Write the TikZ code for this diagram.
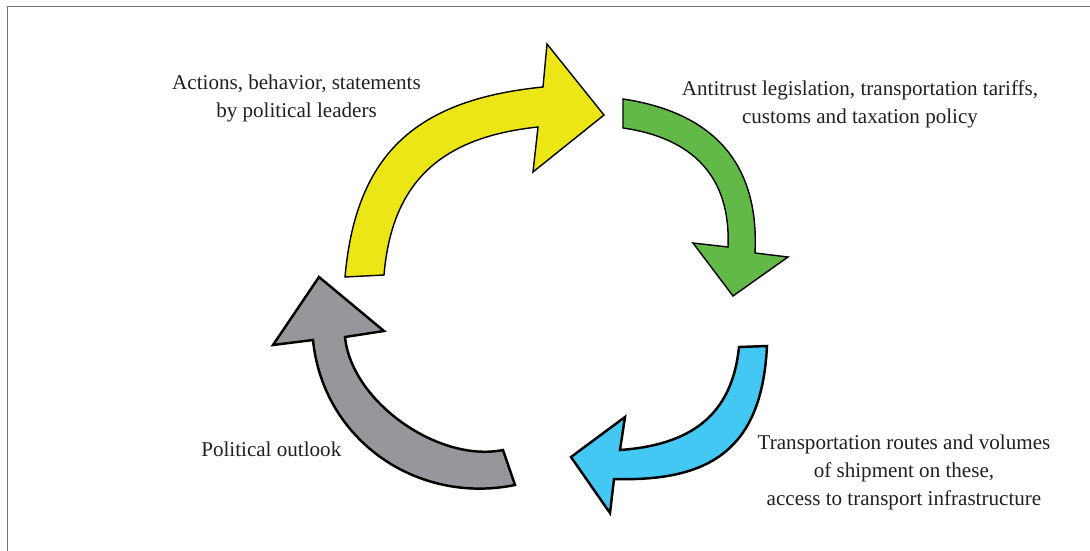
\documentclass[tikz,border=0pt]{standalone}
\usepackage{fontspec}
\setmainfont{Liberation Serif}
\usepackage{tikz}
\usepackage{xcolor}

\definecolor{yellowarrow}{RGB}{236,230,22}
\definecolor{greenarrow}{RGB}{98,185,72}
\definecolor{bluearrow}{RGB}{66,200,242}
\definecolor{grayarrow}{RGB}{150,151,155}
\definecolor{textgray}{RGB}{35,31,32}
\definecolor{framegray}{RGB}{115,115,115}

\begin{document}
\begin{tikzpicture}[x=0.02cm,y=-0.02cm,
	thinarrow/.style={draw=black,line width=0.8pt,line join=miter},
	thickarrow/.style={draw=black,line width=1.4pt,line join=miter},
	label/.style={align=center,text=textgray,inner sep=0pt,font=\fontsize{12}{15.9}\selectfont}]
	\useasboundingbox (0,0) rectangle (1090,551);
	\draw[framegray,line width=0.75pt] (7.5,551)--(7.5,6.5)--(1090,6.5);

	% yellow, top left
	\draw[thinarrow,fill=yellowarrow] (384,275) .. controls (392,180) and (443,137) .. (538,127)
		--(533,172)--(604,115)--(547,44)--(543,87)
		.. controls (418,99.5) and (356,152) .. (345,277)--cycle;
	% green, top right
	\draw[thinarrow,fill=greenarrow] (623,99) .. controls (713,112.5) and (759.5,163) .. (755,253)
		--(788,257)--(733,296)--(693,243)--(728,247)
		.. controls (731,177) and (693,138) .. (623,128)--cycle;
	% blue, bottom right
	\draw[thickarrow,fill=bluearrow] (739,347)--(767,346) .. controls (762,446) and (714,482) .. (614,479)
		--(610,513)--(571,457)--(625,417)--(620,450)
		.. controls (690,445) and (732,416) .. (739,347)--cycle;
	% gray, bottom left
	\draw[thickarrow,fill=grayarrow] (515,485) .. controls (417,505) and (323,440) .. (313,340)
		--(273,345)--(319,277)--(384,331)--(345,337)
		.. controls (351.5,402) and (439,463) .. (503,450)--cycle;

	\node[label] (leaders) at (296.5,98) {Actions, behavior, statements\\by political leaders};
	\node[label] (policy) at (860,104.5) {Antitrust legislation, transportation tariffs,\\customs and taxation policy};
	\node[label] (routes) at (904,472.2) {Transportation routes and volumes\\of shipment on these,\\access to transport infrastructure};
	\node[label] (outlook) at (271.3,449.5) {Political outlook};
\end{tikzpicture}
\end{document}
